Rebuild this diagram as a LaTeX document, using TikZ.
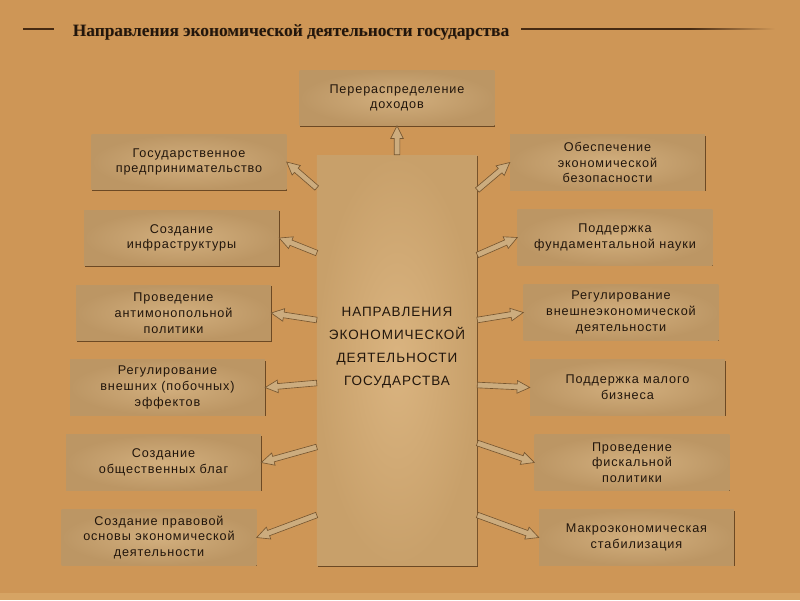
\documentclass[tikz,border=0pt]{standalone}
\usepackage{fontspec}
\setmainfont{Liberation Sans}
\newfontfamily\boxfont[LetterSpace=7]{Liberation Sans}
\newfontfamily\titlefont{Liberation Serif}
\usetikzlibrary{calc,shadows}

\definecolor{pagebg}{RGB}{206,150,86}
\definecolor{pagestrip}{RGB}{214,164,100}
\definecolor{boxlight}{RGB}{210,175,126}
\definecolor{boxdark}{RGB}{188,150,100}
\definecolor{ctrlight}{RGB}{218,180,128}
\definecolor{ctrdark}{RGB}{200,160,106}
\definecolor{arrowfill}{RGB}{204,172,126}
\definecolor{arrowline}{RGB}{118,86,48}
\definecolor{inktext}{RGB}{34,22,12}
\definecolor{shadowbrown}{RGB}{92,60,28}
\definecolor{titleline}{RGB}{70,42,18}

\tikzset{
	dirbox/.style={rectangle, minimum width=4.87cm, minimum height=1.38cm, inner sep=2pt,
		align=center, inner color=boxlight, outer color=boxdark, text=inktext,
		drop shadow={shadow xshift=0.6pt, shadow yshift=-0.7pt, fill=shadowbrown, opacity=0.85},
		font=\boxfont\fontsize{9}{11.2}\selectfont},
	ctrbox/.style={dirbox, minimum width=4cm, minimum height=10.27cm,
		inner color=ctrlight, outer color=ctrdark},
	ctrtext/.style={align=center, text=inktext, font=\boxfont\fontsize{9.6}{16.4}\selectfont},
	titletext/.style={anchor=base west, font=\titlefont\bfseries\fontsize{12.3}{14}\selectfont},
	arrowbody/.style={fill=arrowfill, draw=arrowline, line width=0.45pt, line join=miter}
}

% block arrow from a coordinate to a node anchor
\newcommand{\blockarrow}[2]{%
	\filldraw[arrowbody] ($(#1)!2pt!90:(#2)$)
		-- ($(#2)!9pt!(#1)!2pt!90:(#2)$)
		-- ($(#2)!9pt!(#1)!4.5pt!90:(#2)$)
		-- (#2)
		-- ($(#2)!9pt!(#1)!4.5pt!-90:(#2)$)
		-- ($(#2)!9pt!(#1)!2pt!-90:(#2)$)
		-- ($(#1)!2pt!-90:(#2)$) -- cycle;}

\begin{document}
\begin{tikzpicture}[x=0.025cm, y=-0.025cm]
	% background
	\fill[pagebg] (0,0) rectangle (800,600);
	\fill[pagestrip] (0,593) rectangle (800,600);

	% title
	\node[titletext, text=shadowbrown, opacity=0.3] (titleshadow) at (68.8,36.8) {Направления экономической деятельности государства};
	\node[titletext, text=inktext] (title) at (68,36) {Направления экономической деятельности государства};
	\draw[titleline, line width=1.1pt] (23,29) -- (54,29);
	\fill[titleline] (521,28.4) rectangle (690,29.8);
	\shade[left color=titleline, right color=pagebg] (690,28.4) rectangle (775,29.8);

	% centre
	\node[ctrbox] (ctr) at (397,360.5) {};
	\node[ctrtext] (ctrlabel) at (397,348) {НАПРАВЛЕНИЯ\\ЭКОНОМИЧЕСКОЙ\\ДЕЯТЕЛЬНОСТИ\\ГОСУДАРСТВА};

	% top
	\node[dirbox] (top) at (397,98) {Перераспределение\\доходов};

	% left column
	\node[dirbox] (lA) at (189,162)   {Государственное\\предпринимательство};
	\node[dirbox] (lB) at (181.5,238) {Создание\\инфраструктуры};
	\node[dirbox] (lC) at (173.5,313) {Проведение\\антимонопольной\\политики};
	\node[dirbox] (lD) at (167.5,387.5) {Регулирование\\внешних (побочных)\\эффектов};
	\node[dirbox] (lE) at (163.5,462.5) {Создание\\общественных благ};
	\node[dirbox] (lF) at (159,537.5) {Создание правовой\\основы экономической\\деятельности};

	% right column
	\node[dirbox] (rA) at (607.5,162.5) {Обеспечение\\экономической\\безопасности};
	\node[dirbox] (rB) at (615,237.5)   {Поддержка\\фундаментальной науки};
	\node[dirbox] (rC) at (621,312.5)   {Регулирование\\внешнеэкономической\\деятельности};
	\node[dirbox] (rD) at (627.5,387.5) {Поддержка малого\\бизнеса};
	\node[dirbox] (rE) at (632,462.5)   {Проведение\\фискальной\\политики};
	\node[dirbox] (rF) at (636.5,537.5) {Макроэкономическая\\стабилизация};

	% arrows
	\blockarrow{ctr.north}{top.south}
	\foreach \n/\y in {lA/188,lB/253,lC/320,lD/383,lE/447,lF/515} {
		\path (ctr.west |- 0,\y) coordinate (t\n);
		\blockarrow{t\n}{\n.east}
	}
	\foreach \n/\y in {rA/190,rB/255,rC/320,rD/385,rE/443,rF/515} {
		\path (ctr.east |- 0,\y) coordinate (t\n);
		\blockarrow{t\n}{\n.west}
	}
\end{tikzpicture}
\end{document}
